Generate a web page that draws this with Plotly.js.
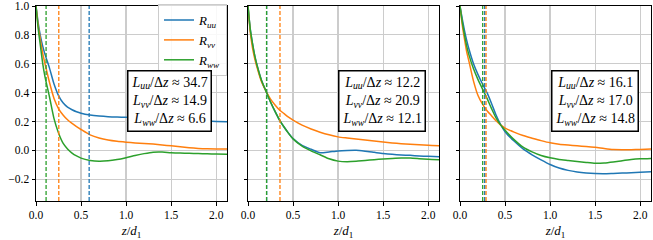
<!DOCTYPE html>
<html>
<head>
<meta charset="utf-8">
<script src="https://cdn.plot.ly/plotly-3.0.1.min.js"></script>
<style>html,body{margin:0;padding:0;background:#fff;}#chart{width:653px;height:240px;}</style>
</head>
<body>
<div id="chart"></div>
<script>
// separation z/d1 (sample positions)
const z = [0, 0.025, 0.05, 0.075, 0.1, 0.15, 0.2, 0.25, 0.3, 0.35, 0.4, 0.45, 0.5, 0.6, 0.7, 0.8, 0.9, 1.0, 1.1, 1.2, 1.3, 1.4, 1.5, 1.6, 1.7, 1.8, 1.9, 2.0, 2.12];

// panel 1
const Ruu_1 = [1, 0.88, 0.79, 0.72, 0.665, 0.57, 0.46, 0.38, 0.33, 0.30, 0.282, 0.268, 0.258, 0.246, 0.239, 0.234, 0.231, 0.229, 0.227, 0.225, 0.222, 0.219, 0.216, 0.213, 0.21, 0.207, 0.204, 0.201, 0.198];
const Rvv_1 = [1, 0.86, 0.76, 0.67, 0.6, 0.47, 0.36, 0.29, 0.245, 0.212, 0.187, 0.165, 0.145, 0.108, 0.086, 0.072, 0.063, 0.057, 0.052, 0.048, 0.044, 0.038, 0.032, 0.025, 0.019, 0.014, 0.011, 0.01, 0.01];
const Rww_1 = [1, 0.84, 0.72, 0.6, 0.51, 0.37, 0.22, 0.12, 0.05, 0.01, -0.018, -0.038, -0.053, -0.069, -0.075, -0.072, -0.063, -0.05, -0.035, -0.022, -0.012, -0.011, -0.016, -0.018, -0.02, -0.022, -0.023, -0.025, -0.026];
// panel 2
const Ruu_2 = [1, 0.84, 0.74, 0.655, 0.59, 0.485, 0.41, 0.335, 0.27, 0.21, 0.162, 0.12, 0.082, 0.035, 0.008, -0.016, -0.01, -0.003, 0.0, 0.001, -0.005, -0.013, -0.021, -0.027, -0.031, -0.034, -0.038, -0.041, -0.044];
const Rvv_2 = [1, 0.82, 0.71, 0.635, 0.575, 0.475, 0.41, 0.355, 0.315, 0.28, 0.255, 0.23, 0.21, 0.175, 0.148, 0.126, 0.108, 0.094, 0.086, 0.079, 0.072, 0.065, 0.058, 0.052, 0.047, 0.043, 0.04, 0.036, 0.033];
const Rww_2 = [1, 0.84, 0.74, 0.655, 0.59, 0.485, 0.41, 0.335, 0.27, 0.21, 0.162, 0.118, 0.08, 0.03, -0.003, -0.03, -0.058, -0.074, -0.078, -0.075, -0.069, -0.064, -0.059, -0.055, -0.052, -0.053, -0.057, -0.061, -0.064];
// panel 3
const Ruu_3 = [1, 0.91, 0.83, 0.76, 0.7, 0.6, 0.525, 0.46, 0.4, 0.325, 0.245, 0.18, 0.13, 0.065, 0.011, -0.03, -0.065, -0.097, -0.122, -0.138, -0.149, -0.156, -0.16, -0.161, -0.159, -0.157, -0.154, -0.151, -0.148];
const Rvv_3 = [1, 0.87, 0.77, 0.68, 0.615, 0.48, 0.38, 0.32, 0.275, 0.24, 0.205, 0.177, 0.155, 0.127, 0.103, 0.085, 0.068, 0.053, 0.043, 0.037, 0.032, 0.027, 0.022, 0.013, 0.006, 0.005, 0.005, 0.007, 0.01];
const Rww_3 = [1, 0.89, 0.8, 0.72, 0.66, 0.565, 0.49, 0.425, 0.36, 0.29, 0.225, 0.177, 0.14, 0.075, 0.023, -0.01, -0.035, -0.051, -0.062, -0.069, -0.076, -0.083, -0.089, -0.087, -0.08, -0.071, -0.063, -0.058, -0.055];

// integral length scales L/Δz (uu, vv, ww) and their positions in z/d1
const Lratio_1 = [34.7, 14.9, 6.6];
const Lratio_2 = [12.2, 20.9, 12.1];
const Lratio_3 = [16.1, 17.0, 14.8];
const Lpos_1 = [0.59, 0.253, 0.112];
const Lpos_2 = [0.207, 0.355, 0.206];
const Lpos_3 = [0.274, 0.289, 0.252];

const seriesNames = ['<i>R</i><sub><i>uu</i></sub>', '<i>R</i><sub><i>vv</i></sub>', '<i>R</i><sub><i>ww</i></sub>'];
const compLabels = ['uu', 'vv', 'ww'];
const xTicks = [0, 0.5, 1.0, 1.5, 2.0];
const yTicks = [-0.2, 0.0, 0.2, 0.4, 0.6, 0.8, 1.0];

const colors = ['#1f77b4', '#ff7f0e', '#2ca02c'];
const FONT = 'Liberation Serif';

const panels = [
  {R: [Ruu_1, Rvv_1, Rww_1], L: Lratio_1, P: Lpos_1, ax: ''},
  {R: [Ruu_2, Rvv_2, Rww_2], L: Lratio_2, P: Lpos_2, ax: '2'},
  {R: [Ruu_3, Rvv_3, Rww_3], L: Lratio_3, P: Lpos_3, ax: '3'}
];

const traces = [];
const shapes = [];
const annotations = [];
const annX = [1.48, 1.49, 1.50];

panels.forEach((p, pi) => {
  p.R.forEach((ys, si) => {
    traces.push({
      type: 'scatter', mode: 'lines', x: z, y: ys,
      xaxis: 'x' + p.ax, yaxis: 'y' + p.ax,
      name: seriesNames[si], showlegend: pi === 0,
      line: {color: colors[si], width: 1.5, shape: 'spline', smoothing: 0.6},
      hoverinfo: 'skip'
    });
  });
  p.P.forEach((xv, si) => {
    shapes.push({
      type: 'line', xref: 'x' + p.ax, yref: 'y' + p.ax + ' domain',
      x0: xv, x1: xv, y0: 0, y1: 1, layer: 'above',
      line: {color: colors[si], width: 1.3, dash: '4px,2px'}
    });
  });
  const txt = p.L.map((v, si) =>
    '<i>L</i><sub><i>' + compLabels[si] + '</i></sub>/Δ<i>z</i> ≈ ' + v.toFixed(1)).join('<br>');
  annotations.push({
    xref: 'x' + p.ax, yref: 'y' + p.ax, x: annX[pi], y: 0.34,
    xanchor: 'center', yanchor: 'middle', showarrow: false, align: 'center',
    text: txt, font: {family: FONT, size: 14, color: '#000'},
    bgcolor: '#ffffff', bordercolor: '#000000', borderwidth: 1.5, borderpad: 3
  });
});

const W = 615;
const doms = [[0, 191 / W], [212 / W, 403 / W], [424 / W, 1]];

function xax(i) {
  return {
    domain: doms[i], range: [0, 2.12], anchor: i === 0 ? 'y' : 'y' + (i + 1),
    tickvals: xTicks, tickformat: '.1f',
    ticks: 'outside', ticklen: 3.5, tickwidth: 1, tickcolor: '#000',
    showline: true, mirror: true, linecolor: '#000', linewidth: 1,
    showgrid: true, gridcolor: '#cccccc', gridwidth: 1.2, zeroline: false,
    tickfont: {family: FONT, size: 11.5, color: '#000'},
    ticklabeloverflow: 'allow',
    title: {text: '<i>z</i>/<i>d</i><sub>1</sub>', font: {family: FONT, size: 13, color: '#000'}, standoff: 17}
  };
}
function yax(i) {
  return {
    domain: [0, 1], range: [-0.35, 1.0], anchor: i === 0 ? 'x' : 'x' + (i + 1),
    tickvals: yTicks, tickformat: '.1f', showticklabels: i === 0,
    ticks: 'outside', ticklen: 3.5, tickwidth: 1, tickcolor: '#000',
    showline: true, mirror: true, linecolor: '#000', linewidth: 1,
    showgrid: true, gridcolor: '#cccccc', gridwidth: 1.2, zeroline: false,
    ticklabeloverflow: 'allow',
    tickfont: {family: FONT, size: 11.5, color: '#000'}
  };
}

const layout = {
  width: 653, height: 240,
  margin: {l: 36, r: 2, t: 6, b: 39},
  paper_bgcolor: '#fff', plot_bgcolor: '#fff',
  font: {family: FONT, size: 12, color: '#000'},
  showlegend: true,
  legend: {
    x: (158 - 36) / W, y: 1.01, xanchor: 'left', yanchor: 'top',
    bgcolor: 'rgba(255,255,255,0.85)', bordercolor: '#cccccc', borderwidth: 1,
    font: {family: FONT, size: 13, color: '#000'}, itemwidth: 30, tracegroupgap: 0
  },
  xaxis: xax(0), xaxis2: xax(1), xaxis3: xax(2),
  yaxis: yax(0), yaxis2: yax(1), yaxis3: yax(2),
  shapes: shapes, annotations: annotations
};

Plotly.newPlot('chart', traces, layout, {staticPlot: true, displayModeBar: false});
</script>
</body>
</html>
